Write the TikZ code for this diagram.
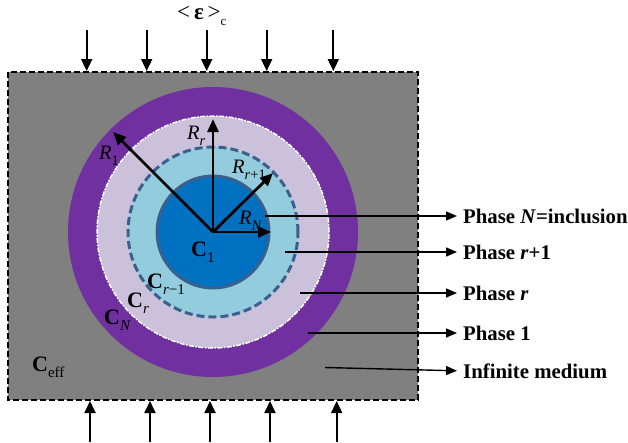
\documentclass[tikz,border=0pt]{standalone}
\usepackage{fontspec}
\setmainfont{Liberation Serif}
\usetikzlibrary{arrows.meta}
\definecolor{gmed}{HTML}{808080}
\definecolor{phone}{HTML}{7030A0}
\definecolor{phr}{HTML}{CCC1DA}
\definecolor{phrone}{HTML}{93CDDD}
\definecolor{phN}{HTML}{0070C0}
\definecolor{edgeblue}{HTML}{3A6090}
\newcommand{\lowsub}[1]{\raisebox{-0.3em}{\fontsize{14.5}{14.5}\selectfont #1}}
\newcommand{\csub}[1]{\raisebox{-0.28em}{\fontsize{15}{15}\selectfont #1}}
\tikzset{
  radarrow/.style={line width=2.8pt,-{Triangle[length=13pt,width=11pt]}},
  loadarrow/.style={line width=1.8pt,-{Triangle[length=12pt,width=11pt]}},
  leader/.style={line width=1.4pt,-{Triangle[length=11pt,width=9pt]}},
  rlab/.style={inner sep=0pt,anchor=base west,font=\fontsize{20.5}{20.5}\selectfont},
  clab/.style={inner sep=0pt,anchor=base west,font=\fontsize{22}{22}\selectfont\bfseries},
  phlab/.style={inner xsep=6pt,inner ysep=0pt,anchor=base west,font=\fontsize{20.8}{20.8}\selectfont\bfseries},
}
\begin{document}
\begin{tikzpicture}[x=1pt,y=-1pt]
\useasboundingbox (0,0) rectangle (628,442);
% medium
\fill[gmed] (8,72) rectangle (418,400);
\draw[line width=1.5pt,dash pattern=on 6pt off 3pt] (8,72) rectangle (418,400);
% phases
\coordinate (O) at (213,232);
\fill[phone] (O) circle (145pt);
\fill[phr] (O) circle (116pt);
\draw[white,line width=1.5pt,dash pattern=on 5pt off 1.5pt on 1.5pt off 1.5pt] (O) circle (116pt);
\fill[phrone] (O) circle (85pt);
\draw[edgeblue,line width=3pt,dash pattern=on 8pt off 4pt] (O) circle (85pt);
\fill[phN] (O) circle (56pt);
\draw[edgeblue,line width=3pt] (O) circle (56pt);
% radii
\coordinate (e1) at (113,132);
\coordinate (er) at (213,119);
\coordinate (erp) at (273,173);
\coordinate (eN) at (271,232);
\draw[radarrow] (O) -- (e1);
\draw[radarrow] (O) -- (er);
\draw[radarrow] (O) -- (erp);
\draw[radarrow] (O) -- (eN);
\node[rlab] (R1) at (99,159) {\textit{R}\lowsub{1}};
\node[rlab] (Rr) at (187,139) {\textit{R}\lowsub{\textit{r}}};
\node[rlab] (Rrp) at (232,173) {\textit{R}\lowsub{\textit{r}+1}};
\node[rlab] (RN) at (239,224) {\textit{R}\lowsub{\textit{N}}};
% stiffness labels
\node[clab] (C1) at (191,256) {C\csub{\mdseries 1}};
\node[clab] (Crm) at (147,288) {C\csub{\mdseries\textit{r}−1}};
\node[clab] (Cr) at (127,307) {C\csub{\mdseries\textit{r}}};
\node[clab] (CN) at (104,324) {C\csub{\mdseries\textit{N}}};
\node[clab] (Ceff) at (32,371) {C\csub{\mdseries eff}};
% phase labels
\node[phlab] (lN) at (457,223) {Phase \textit{N}=inclusion};
\node[phlab] (lrp) at (457,259) {Phase \textit{r}+1};
\node[phlab] (lr) at (457,300) {Phase \textit{r}};
\node[phlab] (l1) at (457,340) {Phase 1};
\node[phlab] (linf) at (457,378) {Infinite medium};
\coordinate (sN) at (265,216);
\coordinate (srp) at (285,252);
\coordinate (sr) at (300,293);
\coordinate (s1) at (308,333);
\coordinate (sinf) at (325,367.5);
\draw[leader] (sN) -- (sN -| lN.west);
\draw[leader] (srp) -- (srp -| lrp.west);
\draw[leader] (sr) -- (sr -| lr.west);
\draw[leader] (s1) -- (s1 -| l1.west);
\draw[leader] (sinf) -- (linf.west);
% loading
\node[inner sep=0pt,anchor=base west,font=\fontsize{23}{23}\selectfont] (eps) at (177,19) {<\,\textbf{ε}\,>\raisebox{-0.3em}{\fontsize{13}{13}\selectfont c}};
\foreach \i/\x in {1/86.7,2/146.7,3/206.7,4/266.7,5/333.3}{
  \coordinate (ta\i) at (\x,30);
  \coordinate (tb\i) at (\x,71);
  \draw[loadarrow] (ta\i) -- (tb\i);
}
\foreach \i/\x in {1/90,2/150,3/210,4/270,5/336.7}{
  \coordinate (ba\i) at (\x,442);
  \coordinate (bb\i) at (\x,401);
  \draw[loadarrow] (ba\i) -- (bb\i);
}
\end{tikzpicture}
\end{document}
